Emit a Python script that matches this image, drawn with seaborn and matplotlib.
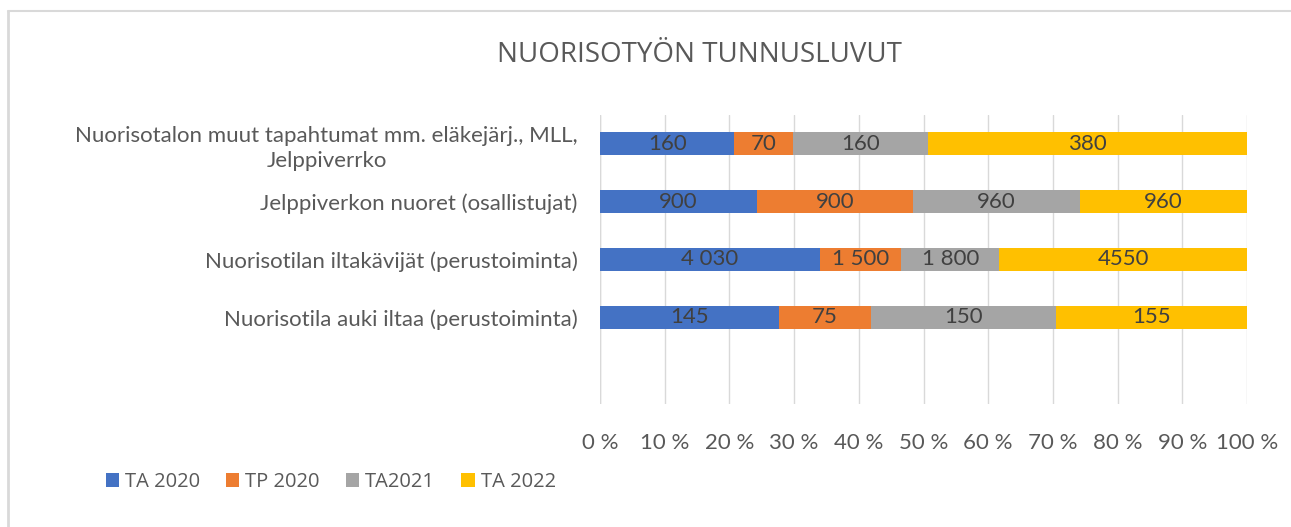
import matplotlib
matplotlib.use("Agg")
import matplotlib.pyplot as plt
from matplotlib.lines import Line2D
from matplotlib.patches import Patch
import numpy as np
import pandas as pd
import seaborn as sns

# Data
categories = [
    "Nuorisotalon muut tapahtumat mm. eläkejärj., MLL,\nJelppiverrko",
    "Jelppiverkon nuoret (osallistujat)",
    "Nuorisotilan iltakävijät (perustoiminta)",
    "Nuorisotila auki iltaa (perustoiminta)",
]
series = ["TA 2020", "TP 2020", "TA2021", "TA 2022"]
ta2020 = [160, 900, 4030, 145]
tp2020 = [70, 900, 1500, 75]
ta2021 = [160, 960, 1800, 150]
ta2022 = [380, 960, 4550, 155]
value_labels = [
    ["160", "900", "4 030", "145"],
    ["70", "900", "1 500", "75"],
    ["160", "960", "1 800", "150"],
    ["380", "960", "4550", "155"],
]
x_ticks = [0, 10, 20, 30, 40, 50, 60, 70, 80, 90, 100]
colors = ["#4472C4", "#ED7D31", "#A5A5A5", "#FFC000"]

sns.set_style("white")
plt.rcParams["font.family"] = ["Lato", "DejaVu Sans"]

values = np.array([ta2020, tp2020, ta2021, ta2022], dtype=float)
pct = values / values.sum(axis=0) * 100
cum = np.cumsum(pct, axis=0)

fig = plt.figure(figsize=(12.91, 5.27), dpi=100)
ax = fig.add_axes([0.4648, 0.2334, 0.5011, 0.5484])

# stacked bars: draw cumulative totals from the last series backwards
for i in range(len(series) - 1, -1, -1):
    df = pd.DataFrame({"cat": categories, "val": cum[i]})
    sns.barplot(data=df, x="val", y="cat", order=categories, color=colors[i],
                width=0.4, saturation=1, ax=ax, linewidth=0)

ax.set_ylim(4.5, -0.5)
ax.set_xlim(0, 100)

for i in range(len(series)):
    for j in range(len(categories)):
        start = cum[i][j] - pct[i][j]
        ax.text(start + pct[i][j] / 2, j, value_labels[i][j], ha="center",
                va="center", fontsize=16, color="#404040")

ax.set_xticks(x_ticks)
ax.set_xticklabels([f"{t} %" for t in x_ticks])
ax.xaxis.grid(True, color="#D9D9D9", linewidth=1)
ax.set_axisbelow(True)
for s in ax.spines.values():
    s.set_visible(False)
ax.axvline(0, color="#D9D9D9", linewidth=1, zorder=0)
ax.tick_params(axis="x", length=0, pad=21, labelsize=16, labelcolor="#595959")
ax.tick_params(axis="y", length=0, pad=16, labelsize=16, labelcolor="#595959")
for lbl in ax.get_yticklabels():
    lbl.set_multialignment("center")
    lbl.set_linespacing(1.35)
ax.set_xlabel("")
ax.set_ylabel("")

fig.text(0.542, 0.895, "NUORISOTYÖN TUNNUSLUVUT", ha="center", va="center",
         fontsize=20, color="#595959", family=["Open Sans", "DejaVu Sans"])

handles = [Patch(facecolor=c, edgecolor="none") for c in colors]
fig.legend(handles, series, loc="center left", bbox_to_anchor=(0.068, 0.085),
           ncol=4, frameon=False, labelcolor="#595959",
           handlelength=0.65, handleheight=0.65, handletextpad=0.3,
           columnspacing=1.3, prop={"family": ["Open Sans", "DejaVu Sans"], "size": 14.5})

# chart border (left and top edges visible)
fig.add_artist(Line2D([0.006, 0.006], [0.0, 0.979], color="#D9D9D9", linewidth=2,
                      transform=fig.transFigure))
fig.add_artist(Line2D([0.006, 1.0], [0.979, 0.979], color="#D9D9D9", linewidth=1.5,
                      transform=fig.transFigure))

fig.savefig("out.png", dpi=100)
